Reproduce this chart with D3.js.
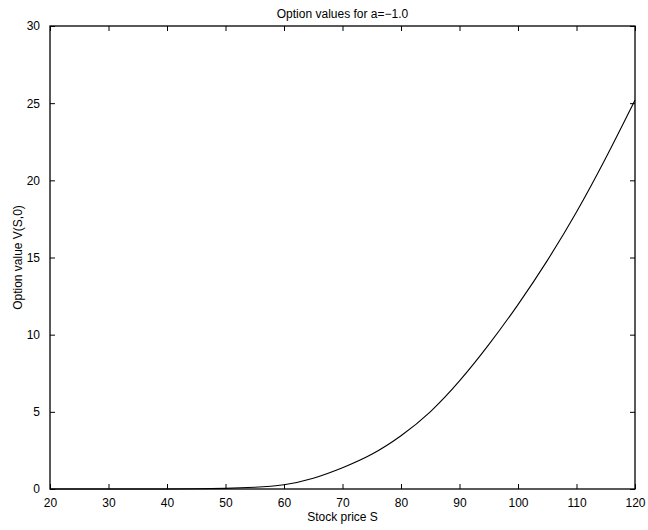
<!DOCTYPE html>
<html>
<head>
<meta charset="utf-8">
<script src="https://cdn.jsdelivr.net/npm/d3@7"></script>
<style>
  body { margin: 0; background: #fff; }
  svg { display: block; }
  text { font-family: "Liberation Sans", Arial, Helvetica, sans-serif; fill: #000; }
</style>
</head>
<body>
<svg id="chart" width="648" height="530"></svg>
<script>
// Data
const stockPrices = [20, 25, 30, 35, 40, 45, 50, 55, 60, 65, 70, 75, 80, 85, 90, 95, 100, 105, 110, 115, 120];
const optionValues = [0, 0, 0, 0, 0.003, 0.012, 0.04, 0.11, 0.28, 0.7, 1.38, 2.25, 3.45, 5.0, 7.0, 9.35, 11.95, 14.8, 17.95, 21.45, 25.2];
const xTicks = [20, 30, 40, 50, 60, 70, 80, 90, 100, 110, 120];
const yTicks = [0, 5, 10, 15, 20, 25, 30];
const titleText = "Option values for a=\u22121.0";
const xLabelText = "Stock price S";
const yLabelText = "Option value V(S,0)";

const svg = d3.select("#chart");
const mLeft = 50, mRight = 635, mTop = 26, mBottom = 489;

const x = d3.scaleLinear().domain([20, 120]).range([mLeft, mRight]);
const y = d3.scaleLinear().domain([0, 30]).range([mBottom, mTop]);

const tickLen = 5;
const fontSize = 12;

const gx = svg.append("g").attr("transform", `translate(0,${mBottom})`)
  .call(d3.axisBottom(x).tickValues(xTicks).tickSize(-tickLen).tickPadding(tickLen + 4).tickFormat(d3.format("d")));
const gxt = svg.append("g").attr("transform", `translate(0,${mTop})`)
  .call(d3.axisTop(x).tickValues(xTicks).tickSize(-tickLen).tickFormat(""));
const gy = svg.append("g").attr("transform", `translate(${mLeft},0)`)
  .call(d3.axisLeft(y).tickValues(yTicks).tickSize(-tickLen).tickPadding(tickLen + 5).tickFormat(d3.format("d")));
const gyr = svg.append("g").attr("transform", `translate(${mRight},0)`)
  .call(d3.axisRight(y).tickValues(yTicks).tickSize(-tickLen).tickFormat(""));

[gx, gxt, gy, gyr].forEach(g => {
  g.select(".domain").remove();
  g.selectAll(".tick line").attr("stroke", "#000").attr("stroke-width", 1);
  g.selectAll("text").attr("font-size", fontSize).style("font-family", '"Liberation Sans", Arial, sans-serif').attr("fill", "#000");
});

svg.append("rect")
  .attr("x", mLeft).attr("y", mTop)
  .attr("width", mRight - mLeft).attr("height", mBottom - mTop)
  .attr("fill", "none").attr("stroke", "#000").attr("stroke-width", 1.3);

const data = stockPrices.map((s, i) => ({ s, v: optionValues[i] }));
svg.append("path")
  .datum(data)
  .attr("fill", "none")
  .attr("stroke", "#000")
  .attr("stroke-width", 1.1)
  .attr("d", d3.line().x(d => x(d.s)).y(d => y(Math.max(0, d.v))).curve(d3.curveNatural));

svg.append("text")
  .attr("x", (mLeft + mRight) / 2).attr("y", 18)
  .attr("text-anchor", "middle").attr("font-size", fontSize)
  .text(titleText);

svg.append("text")
  .attr("x", (mLeft + mRight) / 2).attr("y", 521)
  .attr("text-anchor", "middle").attr("font-size", fontSize)
  .text(xLabelText);

svg.append("text")
  .attr("transform", `translate(22,${(mTop + mBottom) / 2}) rotate(-90)`)
  .attr("text-anchor", "middle").attr("font-size", fontSize)
  .text(yLabelText);
</script>
</body>
</html>
